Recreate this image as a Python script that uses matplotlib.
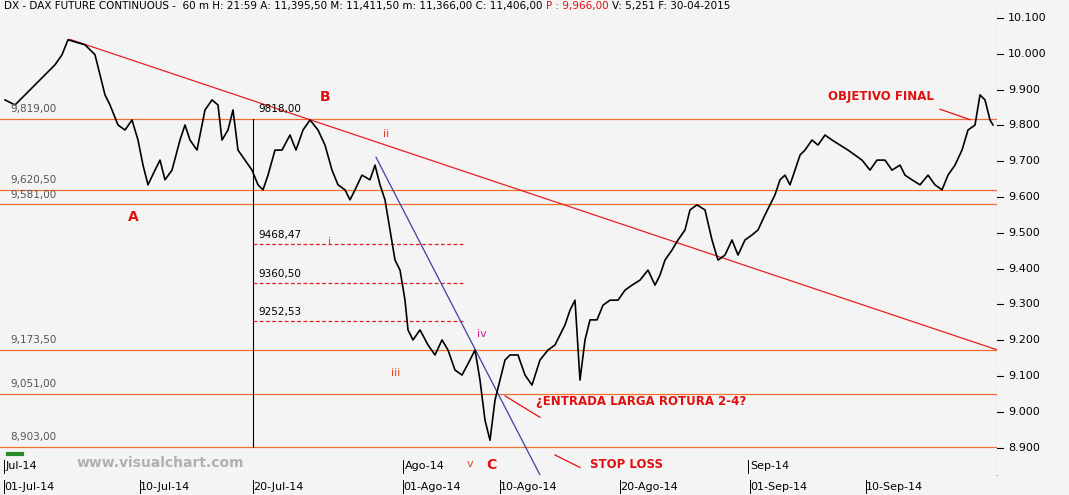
import matplotlib
matplotlib.use("Agg")
import matplotlib.pyplot as plt
import numpy as np

# bar position (hourly bars) and closing prices
bar_idx = [5,15,25,35,45,55,62,68,75,85,95,100,105,110,118,125,132,138,143,148,155,160,165,172,180,185,190,197,205,212,218,222,228,233,238,245,252,258,263,268,275,282,290,296,303,310,318,325,332,338,345,350,355,362,370,375,380,385,390,395,400,405,408,413,420,428,435,442,448,455,462,470,475,480,485,490,495,500,505,510,518,525,532,540,548,555,560,565,570,575,580,585,590,597,603,610,618,625,632,640,648,655,660,665,672,678,685,690,697,705,712,718,725,732,738,745,752,758,765,770,775,780,785,790,795,800,805,812,818,825,832,840,848,855,862,870,877,885,892,900,905,912,920,928,935,942,948,955,962,968,975,980,985,990,993]
close = [9871,9857,9885,9913,9941,9969,9997,10039,10033,10025,9997,9941,9885,9857,9801,9787,9815,9759,9689,9634,9675,9703,9648,9675,9759,9801,9759,9731,9843,9871,9857,9759,9787,9843,9731,9703,9675,9634,9620,9661,9731,9731,9773,9731,9787,9815,9787,9745,9675,9634,9620,9592,9620,9661,9648,9689,9634,9592,9508,9424,9396,9312,9229,9201,9229,9187,9159,9201,9173,9117,9103,9145,9173,9089,8977,8921,9033,9089,9145,9159,9159,9103,9075,9145,9173,9187,9215,9243,9284,9312,9089,9201,9257,9257,9298,9312,9312,9340,9354,9368,9396,9354,9382,9424,9452,9480,9508,9564,9578,9564,9480,9424,9438,9480,9438,9480,9494,9508,9550,9578,9606,9648,9661,9634,9675,9717,9731,9759,9745,9773,9759,9745,9731,9717,9703,9675,9703,9703,9675,9689,9661,9648,9634,9661,9634,9620,9661,9689,9731,9787,9801,9885,9871,9815,9801]

levels = [9819.00, 9620.50, 9581.00, 9173.50, 9051.00, 8903.00]
level_labels = ["9,819,00", "9,620,50", "9,581,00", "9,173,50", "9,051,00", "8,903,00"]
fib_levels = [9468.47, 9360.50, 9252.53]
fib_labels = ["9468,47", "9360,50", "9252,53"]
yticks = [10100, 10000, 9900, 9800, 9700, 9600, 9500, 9400, 9300, 9200, 9100, 9000, 8900]
ytick_labels = ["10.100", "10.000", "9.900", "9.800", "9.700", "9.600", "9.500", "9.400", "9.300", "9.200", "9.100", "9.000", "8.900"]
xtick_pos = [4, 140, 253, 403, 500, 620, 750, 866]
xtick_labels = ["01-Jul-14", "10-Jul-14", "20-Jul-14", "01-Ago-14", "10-Ago-14", "20-Ago-14", "01-Sep-14", "10-Sep-14"]
month_pos = [4, 403, 748]
month_labels = ["Jul-14", "Ago-14", "Sep-14"]

W, H = 1069, 495
fig = plt.figure(figsize=(W/100, H/100), dpi=100, facecolor="#f4f4f4")
ax = fig.add_axes([0, 20/H, 997/W, 465/H], facecolor="#f4f4f4")
ax.set_xlim(0, 997)
ax.set_ylim(8824, 10122)

orange = "#f07030"
for lv, lb in zip(levels, level_labels):
    ax.axhline(lv, color=orange, lw=0.9)
    ax.text(10, lv + 12, lb, color="#555555", fontsize=7.5, va="bottom")

ax.plot([253, 253], [8903, 9819], color="black", lw=0.8)
ax.text(258, 9819 + 12, "9818,00", fontsize=7.5, va="bottom")
for lv, lb in zip(fib_levels, fib_labels):
    ax.plot([253, 463], [lv, lv], color="#e02020", lw=0.9, ls=(0, (3, 2)))
    ax.text(258, lv + 12, lb, fontsize=7.5, va="bottom")

# trend lines
ax.plot([70, 997], [10040, 9173.5], color="#e82020", lw=0.9)
ax.plot([376, 540], [9711, 8824], color="#4040a0", lw=0.9)

ax.plot(bar_idx, close, color="black", lw=1.2)

red = "#e01010"
kw = dict(color=red, fontweight="bold", ha="center", va="center")
ax.text(133, 9545, "A", fontsize=10, **kw)
ax.text(325, 9880, "B", fontsize=10, **kw)
ax.text(491, 8853, "C", fontsize=10, **kw)
ax.text(881, 9880, "OBJETIVO FINAL", fontsize=8.5, **kw)
ax.text(641, 9029, "¿ENTRADA LARGA ROTURA 2-4?", fontsize=8.5, **kw)
ax.text(626, 8853, "STOP LOSS", fontsize=8.5, **kw)
rn = "#e84020"
ax.text(386, 9775, "ii", color=rn, fontsize=8, ha="center", va="center")
ax.text(330, 9475, "i", color=rn, fontsize=8, ha="center", va="center")
ax.text(396, 9108, "iii", color=rn, fontsize=8, ha="center", va="center")
ax.text(482, 9217, "iv", color="#d0208a", fontsize=8, ha="center", va="center")
ax.text(470, 8856, "v", color=rn, fontsize=8, ha="center", va="center")
ax.plot([505, 540], [9045, 8985], color=red, lw=0.9)
ax.plot([555, 580], [8880, 8845], color=red, lw=0.9)
ax.plot([940, 970], [9845, 9816], color=red, lw=0.9)
ax.text(160, 8858, "www.visualchart.com", color="#b0b0b0", fontsize=10, fontweight="bold", ha="center", va="center")
ax.plot([8, 22], [8882, 8882], color="#2a8a2a", lw=3)

ax.set_xticks([]); ax.set_yticks([])
for s in ax.spines.values():
    s.set_visible(False)
ax.spines["right"].set_visible(True)
ax.spines["right"].set_color("#888888")

# right price axis
rax = fig.add_axes([997/W, 20/H, 72/W, 465/H], facecolor="#f4f4f4")
rax.set_ylim(ax.get_ylim()); rax.set_xlim(0, 1)
rax.set_xticks([]); rax.set_yticks([])
for s in rax.spines.values():
    s.set_visible(False)
for v, lb in zip(yticks, ytick_labels):
    rax.plot([0, 0.08], [v, v], color="black", lw=0.8)
    rax.text(0.15, v, lb, fontsize=8, va="center", ha="left")

# bottom date axis
for p, lb in zip(xtick_pos, xtick_labels):
    fig.text(p / W, 1 - 487/H, lb, fontsize=8, ha="left", va="center")
    fig.add_artist(plt.Line2D([p/W, p/W], [1-493/H, 1-480/H], color="black", lw=0.7))
for p, lb in zip(month_pos, month_labels):
    fig.add_artist(plt.Line2D([p/W, p/W], [1-473/H, 1-460/H], color="black", lw=0.7))
    fig.text((p + 2) / W, 1 - 466/H, lb, fontsize=8, ha="left", va="center")

# header
hdr = "DX - DAX FUTURE CONTINUOUS -  60 m H: 21:59 A: 11,395,50 M: 11,411,50 m: 11,366,00 C: 11,406,00 "
t = fig.text(4/W, 1 - 6/H, hdr, fontsize=7.5, va="center", ha="left")
fig.canvas.draw()
bb = t.get_window_extent()
t2 = fig.text(bb.x1 / W, 1 - 6/H, "P : 9,966,00 ", color=red, fontsize=7.5, va="center", ha="left")
bb2 = t2.get_window_extent()
fig.text(bb2.x1 / W, 1 - 6/H, "V: 5,251 F: 30-04-2015", fontsize=7.5, va="center", ha="left")

fig.savefig("out.png", dpi=100, facecolor=fig.get_facecolor())
